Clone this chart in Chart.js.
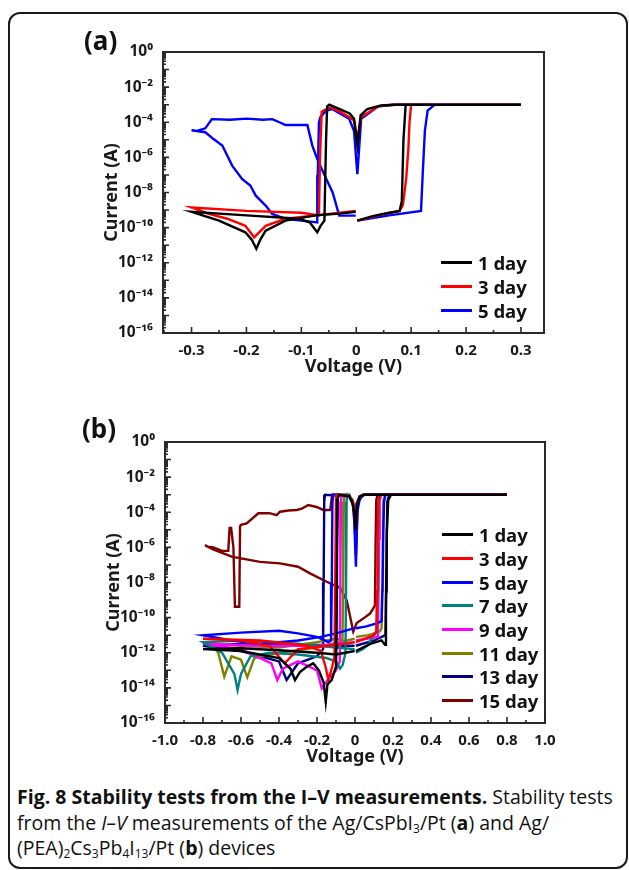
<!DOCTYPE html>
<html>
<head>
<meta charset="utf-8">
<title>Fig. 8 Stability tests</title>
<script src="https://cdn.jsdelivr.net/npm/chart.js@4.4.1/dist/chart.umd.min.js"></script>
<style>
  body { margin: 0; width: 629px; height: 870px; position: relative; overflow: hidden; background: #fff; font-family: 'Noto Sans', sans-serif; color: #111; }
  .frame { position: absolute; left: 8px; top: 12px; width: 616px; height: 853px; border: 2px solid #1a1a1a; border-radius: 12px; }
  .chart { position: absolute; left: 0; width: 629px; height: 390px; }
  #wrap-a { top: 0; }
  #wrap-b { top: 390px; }
  .panel-label { position: absolute; font-weight: bold; font-size: 26px; line-height: 30px; }
  .legend { position: absolute; font-weight: bold; font-size: 18.5px; }
  .legend .row { display: flex; align-items: center; height: 23.7px; }
  .legend .swatch { width: 31px; height: 3px; margin-right: 6px; }
  .caption { position: absolute; left: 17px; top: 784px; font-family: 'Open Sans', sans-serif; font-size: 19.5px; line-height: 25.5px; white-space: nowrap; }
  .caption b { font-weight: bold; }
  .caption sub { font-size: 12px; line-height: 0; vertical-align: -3px; }
</style>
</head>
<body>
<div class="frame"></div>

<div class="chart" id="wrap-a"><canvas id="chart-a" width="629" height="390"></canvas></div>
<div class="chart" id="wrap-b"><canvas id="chart-b" width="629" height="390"></canvas></div>

<div class="panel-label" style="left:84px; top:25px;">(a)</div>
<div class="panel-label" style="left:82px; top:413px;">(b)</div>

<div class="legend" id="legend-a" style="left:441px; top:251px;"></div>
<div class="legend" id="legend-b" style="left:442px; top:523px;"></div>

<div class="caption">
  <b>Fig. 8 Stability tests from the I–V measurements.</b> Stability tests<br>
  from the <i>I–V</i> measurements of the Ag/CsPbI<sub>3</sub>/Pt (<b>a</b>) and Ag/<br>
  (PEA)<sub>2</sub>Cs<sub>3</sub>Pb<sub>4</sub>I<sub>13</sub>/Pt (<b>b</b>) devices
</div>

<script>
// ---- tick values ----
const yTicks = [1e-16, 1e-15, 1e-14, 1e-13, 1e-12, 1e-11, 1e-10, 1e-9, 1e-8, 1e-7, 1e-6, 1e-5, 1e-4, 1e-3, 1e-2, 1e-1, 1];
const aXTicks = [-0.3, -0.2, -0.1, 0, 0.1, 0.2, 0.3];
const aXMinor = [-0.35, -0.25, -0.15, -0.05, 0.05, 0.15, 0.25];
const bXTicks = [-1.0, -0.8, -0.6, -0.4, -0.2, 0, 0.2, 0.4, 0.6, 0.8, 1.0];
const bXMinor = [-0.9, -0.7, -0.5, -0.3, -0.1, 0.1, 0.3, 0.5, 0.7, 0.9];

// ---- (a) Ag/CsPbI3/Pt : voltage (V) and current (A) ----
const aNames = ['1 day', '3 day', '5 day'];
const aColors = ['#000000', '#ff0000', '#0000ff'];

const aV1 = [0.002, 0.03, 0.06, 0.079, 0.083, 0.086, 0.09, 0.3, 0.07, 0.045, 0.02, 0.008, 0.002, -0.004, -0.012, -0.03, -0.049, -0.053, -0.055, -0.058, -0.065, -0.071, -0.085, -0.104, -0.2, -0.3, -0.28, -0.25, -0.202, -0.19, -0.182, -0.175, -0.165, -0.129, -0.074, -0.03, -0.001];
const aI1 = [2.5e-10, 4.5e-10, 7e-10, 9e-10, 3.2e-9, 1e-5, 1e-3, 1e-3, 1e-3, 9e-4, 5.6e-4, 2.5e-4, 5e-6, 1.6e-4, 3.2e-4, 5.6e-4, 1e-3, 8e-4, 1e-5, 2.5e-10, 1.26e-10, 5.4e-11, 2e-10, 3.2e-10, 5e-10, 8e-10, 5e-10, 2.5e-10, 5.4e-11, 2e-11, 6.3e-12, 2e-11, 6.8e-11, 2.5e-10, 5e-10, 6.3e-10, 8e-10];

const aV3 = [0.002, 0.04, 0.079, 0.085, 0.091, 0.095, 0.097, 0.1, 0.3, 0.066, 0.04, 0.009, 0.002, -0.004, -0.013, -0.03, -0.046, -0.058, -0.063, -0.066, -0.068, -0.1, -0.2, -0.3, -0.27, -0.235, -0.202, -0.186, -0.165, -0.129, -0.074, -0.03, -0.001];
const aI3 = [2.5e-10, 5e-10, 9e-10, 2e-9, 6.3e-8, 3.2e-6, 1e-4, 1e-3, 1e-3, 1e-3, 8e-4, 2e-4, 1e-5, 1.26e-4, 2e-4, 4e-4, 7e-4, 5e-4, 4e-4, 1e-6, 5e-10, 7e-10, 9e-10, 1.4e-9, 6.3e-10, 3.2e-10, 1.26e-10, 2.8e-11, 1.26e-10, 3.2e-10, 5e-10, 7e-10, 9e-10];

const aV5 = [0.002, 0.06, 0.118, 0.121, 0.125, 0.13, 0.143, 0.3, 0.07, 0.04, 0.009, 0.002, -0.004, -0.013, -0.03, -0.043, -0.055, -0.065, -0.068, -0.07, -0.071, -0.1, -0.129, -0.153, -0.165, -0.183, -0.193, -0.208, -0.226, -0.244, -0.26, -0.275, -0.3, -0.29, -0.275, -0.263, -0.23, -0.2, -0.17, -0.153, -0.14, -0.129, -0.1, -0.089, -0.08, -0.071, -0.055, -0.043, -0.031, -0.001];
const aI5 = [2.5e-10, 5e-10, 9e-10, 1e-7, 3.2e-5, 4.6e-4, 1e-3, 1e-3, 1e-3, 8e-4, 1.6e-4, 1.1e-7, 3.2e-5, 1.6e-4, 3.2e-4, 5.6e-4, 4.6e-4, 2e-4, 1e-4, 1e-7, 2e-10, 2.5e-10, 3.2e-10, 6e-10, 1.8e-9, 6.6e-9, 2.5e-8, 5.9e-8, 3.4e-7, 4.7e-6, 1.1e-5, 2.7e-5, 3.5e-5, 3.2e-5, 4.5e-5, 1.5e-4, 1.4e-4, 1.6e-4, 1.4e-4, 1.5e-4, 1e-4, 7e-5, 7e-5, 7e-5, 4.7e-6, 8e-7, 6.3e-8, 1e-8, 4.8e-10, 4.8e-10];

// ---- (b) Ag/(PEA)2Cs3Pb4I13/Pt : voltage (V) and current (A) ----
const bNames = ['1 day', '3 day', '5 day', '7 day', '9 day', '11 day', '13 day', '15 day'];
const bColors = ['#000000', '#ff0000', '#0000ff', '#008080', '#ff00ff', '#808000', '#000080', '#800000'];

const bV1 = [0.005, 0.08, 0.14, 0.158, 0.163, 0.168, 0.175, 0.19, 0.8, 0.05, 0.025, 0.01, 0.003, -0.004, -0.012, -0.03, -0.085, -0.09, -0.094, -0.097, -0.1, -0.123, -0.145, -0.154, -0.165, -0.19, -0.22, -0.254, -0.29, -0.316, -0.34, -0.4, -0.6, -0.8, -0.6, -0.4, -0.2, -0.1, -0.002];
const bI1 = [1.26e-12, 3.2e-12, 5e-12, 2.8e-12, 1e-9, 1e-5, 5e-4, 1e-3, 1e-3, 1e-3, 8e-4, 2.5e-4, 1e-5, 1e-4, 3.2e-4, 8e-4, 1e-3, 6.3e-4, 1e-6, 1e-11, 1.6e-13, 2.8e-14, 1.6e-14, 1.6e-15, 2e-14, 1e-13, 2.5e-13, 1.6e-13, 8e-14, 2.8e-14, 1.26e-13, 5e-13, 1.26e-12, 1.6e-12, 1.8e-12, 1.4e-12, 1e-12, 8e-13, 1.26e-12];

const bV3 = [0.005, 0.1, 0.112, 0.116, 0.119, 0.123, 0.13, 0.8, 0.05, 0.025, 0.01, 0.003, -0.004, -0.012, -0.03, -0.095, -0.1, -0.104, -0.108, -0.12, -0.14, -0.155, -0.18, -0.25, -0.5, -0.8, -0.6, -0.45, -0.37, -0.3, -0.15, -0.05, -0.002];
const bI3 = [4e-12, 1e-11, 1.6e-11, 3.2e-9, 3.2e-6, 4e-4, 1e-3, 1e-3, 1e-3, 8e-4, 3.2e-4, 1.6e-5, 1e-4, 4e-4, 8e-4, 1e-3, 4e-4, 1e-8, 6.3e-13, 1.6e-13, 2.8e-14, 1.6e-13, 1.26e-12, 2.5e-12, 5e-12, 6.3e-12, 5e-12, 2.5e-12, 2.5e-13, 1.6e-12, 2.5e-12, 3.2e-12, 4e-12];

const bV5 = [0.005, 0.06, 0.114, 0.14, 0.145, 0.149, 0.153, 0.16, 0.8, 0.05, 0.025, 0.012, 0.005, -0.004, -0.012, -0.03, -0.115, -0.119, -0.122, -0.126, -0.14, -0.2, -0.3, -0.4, -0.6, -0.8, -0.65, -0.5, -0.3, -0.18, -0.1, -0.002];
const bI5 = [2.5e-11, 3.2e-11, 4.7e-11, 6.3e-11, 1e-8, 1e-5, 4e-4, 1e-3, 1e-3, 1e-3, 6.3e-4, 1e-4, 8e-8, 3.2e-5, 3.2e-4, 8e-4, 1e-3, 3.2e-4, 1e-8, 5e-12, 4e-12, 8e-12, 1.26e-11, 1.8e-11, 1.4e-11, 1e-11, 5e-12, 3.2e-12, 5e-12, 8e-12, 1.26e-11, 2.5e-11];

const bV7 = [0.005, 0.04, 0.07, 0.095, 0.115, 0.118, 0.121, 0.124, 0.135, 0.8, 0.05, 0.025, 0.01, 0.003, -0.004, -0.012, -0.03, -0.04, -0.044, -0.047, -0.05, -0.065, -0.079, -0.1, -0.15, -0.3, -0.45, -0.55, -0.6, -0.618, -0.635, -0.7, -0.8, -0.6, -0.4, -0.2, -0.1, -0.002];
const bI7 = [1e-12, 1.6e-12, 2.8e-12, 1e-11, 1.6e-11, 3.2e-9, 3.2e-6, 4e-4, 1e-3, 1e-3, 1e-3, 8e-4, 3.2e-4, 6.3e-6, 1e-4, 4e-4, 8e-4, 1e-3, 4e-4, 1e-8, 1e-12, 2e-13, 1.26e-13, 3.2e-13, 5e-13, 8e-13, 1e-12, 6.3e-13, 6.3e-14, 7.6e-15, 6.3e-14, 1e-12, 4e-12, 5e-12, 4e-12, 2.5e-12, 2e-12, 1.6e-12];

const bV9 = [0.005, 0.06, 0.12, 0.124, 0.127, 0.13, 0.14, 0.8, 0.05, 0.025, 0.01, 0.003, -0.004, -0.012, -0.03, -0.07, -0.074, -0.077, -0.08, -0.1, -0.14, -0.175, -0.2, -0.3, -0.38, -0.409, -0.44, -0.6, -0.8, -0.5, -0.2, -0.002];
const bI9 = [5e-12, 6.3e-12, 8e-12, 3.2e-9, 3.2e-6, 5e-4, 1e-3, 1e-3, 1e-3, 8e-4, 3.2e-4, 1e-5, 1e-4, 4e-4, 8e-4, 1e-3, 4e-4, 1e-8, 3.2e-13, 1e-13, 3.2e-14, 9.3e-15, 1e-13, 3.2e-13, 1.26e-13, 2.8e-14, 2.5e-13, 1.6e-12, 3.2e-12, 2.5e-12, 2.5e-12, 4e-12];

const bV11 = [0.005, 0.07, 0.13, 0.14, 0.143, 0.147, 0.15, 0.16, 0.8, 0.05, 0.025, 0.01, 0.003, -0.004, -0.012, -0.03, -0.055, -0.059, -0.062, -0.066, -0.1, -0.2, -0.4, -0.6, -0.8, -0.75, -0.72, -0.688, -0.65, -0.6, -0.567, -0.53, -0.4, -0.2, -0.002];
const bI11 = [8e-12, 1e-11, 1.6e-11, 2.5e-11, 3.2e-9, 3.2e-6, 5e-4, 1e-3, 1e-3, 1e-3, 8e-4, 3.2e-4, 2.5e-5, 1.26e-4, 5e-4, 8e-4, 1e-3, 4e-4, 1e-8, 5e-12, 6.3e-12, 4e-12, 2e-12, 2.5e-12, 3.5e-12, 2.5e-12, 1e-12, 4.4e-14, 6.3e-13, 4e-13, 4e-14, 5e-13, 1e-12, 2e-12, 6.3e-12];

const bV13 = [0.005, 0.1, 0.16, 0.164, 0.167, 0.17, 0.18, 0.8, 0.05, 0.025, 0.01, 0.003, -0.004, -0.012, -0.03, -0.158, -0.162, -0.165, -0.168, -0.2, -0.3, -0.36, -0.4, -0.6, -0.8, -0.6, -0.3, -0.1, -0.002];
const bI13 = [2.5e-12, 5e-12, 1e-11, 3.2e-9, 3.2e-6, 4e-4, 1e-3, 1e-3, 1e-3, 8e-4, 3.2e-4, 1.6e-5, 1.26e-4, 5e-4, 8e-4, 1e-3, 4e-4, 1e-8, 1.6e-12, 6.3e-13, 2.5e-13, 2.8e-14, 3.2e-13, 1.26e-12, 2.5e-12, 3.2e-12, 3.2e-12, 2.5e-12, 2.5e-12];

const bV15 = [-0.79, -0.75, -0.649, -0.5, -0.395, -0.3, -0.237, -0.149, -0.079, -0.044, -0.009, 0.009, 0.05, 0.079, 0.096, 0.105, 0.108, 0.112, 0.12, 0.8, 0.04, 0.015, 0.005, -0.005, -0.03, -0.12, -0.125, -0.13, -0.167, -0.202, -0.246, -0.28, -0.307, -0.35, -0.395, -0.412, -0.45, -0.509, -0.57, -0.6, -0.605, -0.609, -0.632, -0.64, -0.652, -0.66, -0.667, -0.7, -0.745, -0.775, -0.79];
const bI15 = [1.35e-6, 7.9e-7, 3e-7, 1.5e-7, 1.23e-7, 7.9e-8, 3.3e-8, 1.1e-8, 5e-9, 1e-9, 1.6e-11, 5e-11, 1e-10, 1.7e-10, 3.4e-10, 5e-10, 1e-6, 5e-4, 1e-3, 1e-3, 1e-3, 3.2e-4, 4e-7, 1.6e-4, 1e-3, 1e-3, 4e-4, 1.35e-4, 1.35e-4, 2e-4, 2.6e-4, 1.6e-4, 1.35e-4, 1.26e-4, 1.07e-4, 6.9e-5, 8.9e-5, 8.7e-5, 2.3e-5, 1.9e-5, 1.6e-5, 4.2e-10, 4.2e-10, 1e-6, 1.26e-5, 1.26e-5, 6.3e-7, 6.3e-7, 1e-6, 1.1e-6, 1.35e-6];

// ---- helpers ----
Chart.defaults.font.family = "'Noto Sans', sans-serif";
Chart.defaults.font.weight = 'bold';
Chart.defaults.font.size = 15;
Chart.defaults.color = '#1a1a1a';

const SUP = { '-': '⁻', '0': '⁰', '1': '¹', '2': '²', '3': '³', '4': '⁴', '5': '⁵', '6': '⁶', '7': '⁷', '8': '⁸', '9': '⁹' };

function powerLabel(value) {
    const e = Math.round(Math.log10(value));
    if (e % 2 !== 0) return '';
    return '10' + String(e).split('').map(c => SUP[c]).join('');
}

function makeSet(label, color, vs, is) {
    return {
        label: label,
        data: vs.map((v, i) => ({ x: v, y: is[i] })),
        borderColor: color,
        backgroundColor: color,
        borderWidth: 2.4,
        pointRadius: 0,
        showLine: true,
        tension: 0,
        fill: false,
    };
}

// box around the plot and inward tick marks
const frameTicks = {
    id: 'frameTicks',
    afterDatasetsDraw(chart, args, opts) {
        const { ctx, chartArea: a, scales: { x, y } } = chart;
        ctx.save();
        ctx.strokeStyle = '#2a2a2a';
        ctx.lineWidth = 2;
        ctx.strokeRect(a.left, a.top, a.right - a.left, a.bottom - a.top);
        ctx.lineWidth = 1.6;
        ctx.beginPath();
        x.ticks.forEach(t => {
            const px = x.getPixelForValue(t.value);
            ctx.moveTo(px, a.bottom); ctx.lineTo(px, a.bottom - 6);
        });
        opts.xMinor.forEach(v => {
            const px = x.getPixelForValue(v);
            ctx.moveTo(px, a.bottom); ctx.lineTo(px, a.bottom - 3);
        });
        y.ticks.forEach(t => {
            const py = y.getPixelForValue(t.value);
            ctx.moveTo(a.left, py); ctx.lineTo(a.left + 6, py);
            for (let m = 2; m < 10; m++) {
                if (t.value * m >= 1) break;
                const pm = y.getPixelForValue(t.value * m);
                ctx.moveTo(a.left, pm); ctx.lineTo(a.left + 3, pm);
            }
        });
        ctx.stroke();
        ctx.restore();
    }
};

function makeChart(id, datasets, xr) {
    const ctx = document.getElementById(id).getContext('2d');
    return new Chart(ctx, {
        type: 'scatter',
        data: { datasets: datasets },
        plugins: [frameTicks],
        options: {
            responsive: false,
            animation: false,
            layout: { padding: { left: xr.padLeft, top: 52, right: xr.padRight, bottom: 12 } },
            plugins: {
                legend: { display: false },
                tooltip: { enabled: false },
                frameTicks: { xMinor: xr.minor },
            },
            scales: {
                x: {
                    type: 'linear',
                    min: xr.min,
                    max: xr.max,
                    afterBuildTicks: scale => { scale.ticks = xr.ticks.map(v => ({ value: v })); },
                    afterFit: scale => { scale.height = 45; },
                    grid: { display: false },
                    border: { display: false },
                    ticks: {
                        autoSkip: false,
                        maxRotation: 0,
                        padding: 1,
                        callback: v => (v === 0 ? '0' : v.toFixed(1)),
                    },
                    title: { display: true, text: 'Voltage (V)', font: { size: 18, weight: 'bold' }, padding: 0 },
                },
                y: {
                    type: 'logarithmic',
                    min: 1e-16,
                    max: 1,
                    afterBuildTicks: scale => { scale.ticks = yTicks.map(v => ({ value: v })); },
                    afterFit: scale => { scale.width = 62; },
                    grid: { display: false },
                    border: { display: false },
                    ticks: { autoSkip: false, padding: 2, font: { size: 15.5, weight: 'bold' }, callback: powerLabel },
                    title: { display: true, text: 'Current (A)', font: { size: 18, weight: 'bold' }, padding: 0 },
                },
            },
        },
    });
}

function buildLegend(id, names, colors) {
    const box = document.getElementById(id);
    names.forEach((name, i) => {
        const row = document.createElement('div');
        row.className = 'row';
        row.innerHTML = `<span class="swatch" style="background:${colors[i]}"></span><span>${name}</span>`;
        box.appendChild(row);
    });
}

const aSeries = [[aV1, aI1], [aV3, aI3], [aV5, aI5]];
const bSeries = [[bV1, bI1], [bV3, bI3], [bV5, bI5], [bV7, bI7], [bV9, bI9], [bV11, bI11], [bV13, bI13], [bV15, bI15]];

makeChart('chart-a',
    aSeries.map((s, i) => makeSet(aNames[i], aColors[i], s[0], s[1])),
    { min: -0.352, max: 0.342, ticks: aXTicks, minor: aXMinor, padLeft: 101, padRight: 85 });

makeChart('chart-b',
    bSeries.map((s, i) => makeSet(bNames[i], bColors[i], s[0], s[1])),
    { min: -1.0, max: 1.0, ticks: bXTicks, minor: bXMinor, padLeft: 103, padRight: 84 });

buildLegend('legend-a', aNames, aColors);
buildLegend('legend-b', bNames, bColors);
</script>
</body>
</html>
